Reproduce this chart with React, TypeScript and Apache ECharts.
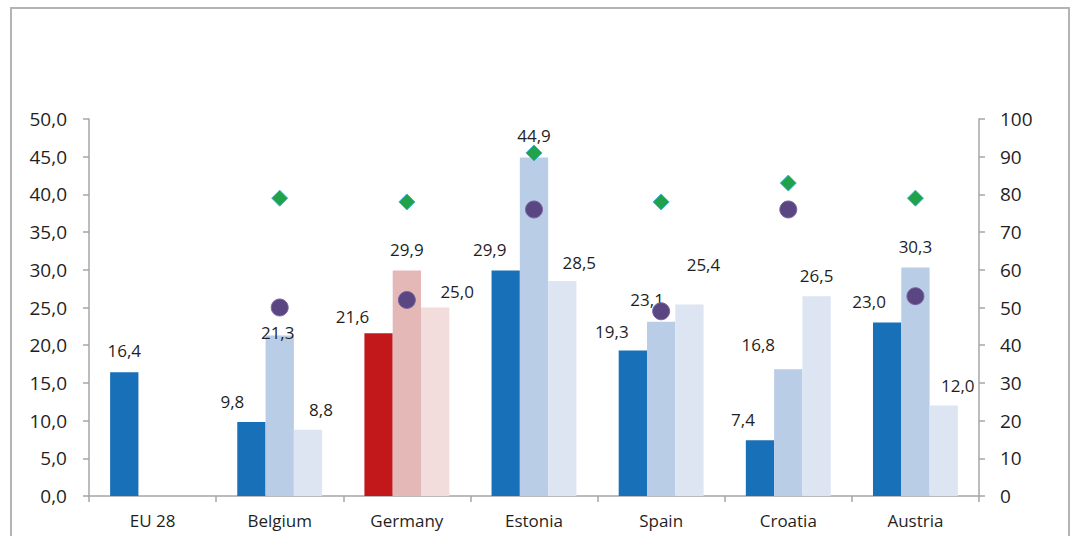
import React, { useEffect, useRef } from "react";
import * as echarts from "echarts";

const categories = ["EU 28", "Belgium", "Germany", "Estonia", "Spain", "Croatia", "Austria"];
const series1 = [16.4, 9.8, 21.6, 29.9, 19.3, 7.4, 23.0];
const series2 = [null, 21.3, 29.9, 44.9, 23.1, 16.8, 30.3];
const series3 = [null, 8.8, 25.0, 28.5, 25.4, 26.5, 12.0];
const diamondValues = [null, 79, 78, 91, 78, 83, 79];
const circleValues = [null, 50, 52, 76, 49, 76, 53];
const leftTicks = [0, 5, 10, 15, 20, 25, 30, 35, 40, 45, 50];
const rightTicks = [0, 10, 20, 30, 40, 50, 60, 70, 80, 90, 100];
const highlightCategory = "Germany";

// label offsets (layout, not data)
const offsets1 = [[0, -13], [-19, -12], [-26, -8], [-16, -13], [-21, -10], [-17, -12], [-18, -13]];
const offsets2 = [[0, 0], [-2, 6], [0, -13], [0, -13], [-14, -14], [-30, -16], [0, -13]];
const offsets3 = [[0, 0], [13, -12], [22, -8], [17, -10], [14, -31], [0, -12], [14, -12]];

const blues = ["#1870b8", "#b9cde6", "#dde4f2"];
const reds = ["#c2181b", "#e5b8b8", "#f2dcdc"];

const FONT = "'Open Sans', 'Noto Sans', sans-serif";
const TEXT = "#1f1f1f";

const fmt = (v: number) => v.toFixed(1).replace(".", ",");

export default function App() {
  const ref = useRef<HTMLDivElement>(null);
  useEffect(() => {
    if (!ref.current) return;
    const chart = echarts.init(ref.current, undefined, { renderer: "svg" });
    const makeBar = (vals: (number | null)[], idx: number, offs: number[][]) => ({
      type: "bar",
      yAxisIndex: 0,
      barWidth: 28.3,
      barGap: "0%",
      data: vals.map((v, i) => ({
        value: v === null ? "-" : v,
        itemStyle: { color: categories[i] === highlightCategory ? reds[idx] : blues[idx] },
        label: { offset: offs[i] },
      })),
      label: {
        show: true,
        position: "top",
        distance: 0,
        fontFamily: FONT,
        fontSize: 17,
        color: TEXT,
        formatter: (p: any) => fmt(Number(p.value)),
      },
    });
    const axisLineStyle = { color: "#a6a6a6", width: 1.5 };
    chart.setOption({
      animation: false,
      backgroundColor: "#ffffff",
      grid: { left: 89, right: 93, top: 119, bottom: 40 },
      graphic: [
        {
          type: "rect",
          shape: { x: 11, y: 8, width: 1058, height: 600 },
          style: { fill: "none", stroke: "#b4b4b4", lineWidth: 2 },
          silent: true,
        },
      ],
      xAxis: {
        type: "category",
        data: categories,
        boundaryGap: true,
        axisLine: { lineStyle: axisLineStyle },
        axisTick: { show: true, length: 6, lineStyle: axisLineStyle },
        axisLabel: { fontFamily: FONT, fontSize: 17, color: TEXT, margin: 16 },
      },
      yAxis: [
        {
          type: "value",
          min: leftTicks[0],
          max: leftTicks[leftTicks.length - 1],
          interval: 5,
          position: "left",
          splitLine: { show: false },
          axisLine: { show: true, lineStyle: axisLineStyle },
          axisTick: { show: true, length: 6, lineStyle: axisLineStyle },
          axisLabel: { fontFamily: FONT, fontSize: 19, color: TEXT, margin: 22, formatter: (v: number) => fmt(v) },
        },
        {
          type: "value",
          min: rightTicks[0],
          max: rightTicks[rightTicks.length - 1],
          interval: 10,
          position: "right",
          splitLine: { show: false },
          axisLine: { show: true, lineStyle: axisLineStyle },
          axisTick: { show: true, length: 6, lineStyle: axisLineStyle },
          axisLabel: { fontFamily: FONT, fontSize: 19, color: TEXT, margin: 21 },
        },
      ],
      series: [
        makeBar(series1, 0, offsets1),
        makeBar(series2, 1, offsets2),
        makeBar(series3, 2, offsets3),
        {
          type: "scatter",
          yAxisIndex: 1,
          symbol: "diamond",
          symbolSize: 16,
          data: diamondValues.map((v) => (v === null ? "-" : v)),
          itemStyle: { color: "#1fa24a", borderColor: "#3db2dc", borderWidth: 1, opacity: 1 },
          z: 5,
        },
        {
          type: "scatter",
          yAxisIndex: 1,
          symbol: "circle",
          symbolSize: 17,
          data: circleValues.map((v) => (v === null ? "-" : v)),
          itemStyle: { color: "#5a4680", borderColor: "#7a62a0", borderWidth: 1, opacity: 1 },
          z: 5,
        },
      ],
    });
    return () => chart.dispose();
  }, []);
  return <div ref={ref} style={{ position: "absolute", left: 0, top: 0, width: 1072, height: 536 }} />;
}
